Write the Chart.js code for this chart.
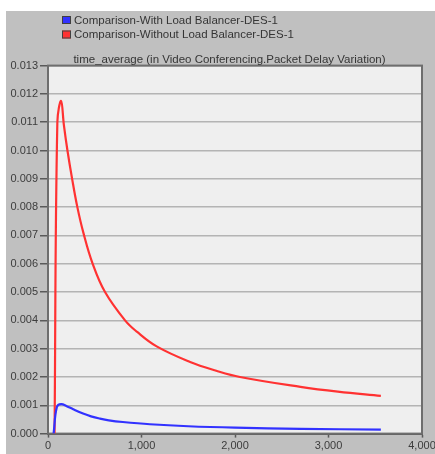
<!DOCTYPE html>
<html>
<head>
<meta charset="utf-8">
<script src="https://cdn.jsdelivr.net/npm/chart.js@4.4.1/dist/chart.umd.min.js"></script>
<style>
  html, body { margin: 0; padding: 0; background: #ffffff; }
  #panel { position: absolute; left: 6px; top: 11px; width: 429px; height: 443px; background: #c0c0c0; }
  #chart { display: block; }
</style>
</head>
<body>
<div id="panel"><canvas id="chart" width="429" height="443"></canvas></div>
<script>
  const chartTitle = 'time_average (in Video Conferencing.Packet Delay Variation)';
  const seriesNames = ['Comparison-With Load Balancer-DES-1', 'Comparison-Without Load Balancer-DES-1'];
  const seriesColors = ['rgb(50, 50, 255)', 'rgb(255, 50, 50)'];

  // simulation time (sec) and time-averaged packet delay variation
  const blueTimes = [60, 95, 140, 200, 270, 375, 460, 556, 650, 800, 1090, 1500, 2000, 2700, 3560];
  const blueValues = [0, 0.00094, 0.00104, 0.00097, 0.00086, 0.00071, 0.00061, 0.00053, 0.00047, 0.00041, 0.00033, 0.00026, 0.00021, 0.00017, 0.00014];

  const redTimes = [70, 100, 140, 170, 208, 258, 314, 378, 478, 610, 824, 950, 1162, 1520, 1800, 2053, 2700, 3100, 3560];
  const redValues = [0, 0.0110, 0.01175, 0.0109, 0.0100, 0.0090, 0.0080, 0.0071, 0.0060, 0.0050, 0.0040, 0.0036, 0.00308, 0.00253, 0.00222, 0.0020, 0.00165, 0.00148, 0.00133];

  const xMax = 4000;
  const xStep = 1000;
  const yMax = 0.013;
  const yStep = 0.001;

  const fontFam = '"Liberation Sans", Arial, sans-serif';

  function toPoints(ts, vs) {
    return ts.map((t, i) => ({ x: t, y: vs[i] }));
  }

  const plotFrame = {
    id: 'plotFrame',
    beforeDraw(chart) {
      const a = chart.chartArea;
      const ctx = chart.ctx;
      ctx.save();
      ctx.fillStyle = '#efefef';
      ctx.fillRect(a.left, a.top, a.right - a.left, a.bottom - a.top);
      ctx.restore();
    },
    beforeDatasetsDraw(chart) {
      const a = chart.chartArea;
      const ctx = chart.ctx;
      ctx.save();
      ctx.strokeStyle = '#6e6e6e';
      ctx.lineWidth = 2;
      ctx.strokeRect(a.left, a.top, a.right - a.left, a.bottom - a.top);
      ctx.restore();
    },
    afterDraw(chart) {
      const ctx = chart.ctx;
      ctx.save();
      // title
      ctx.fillStyle = '#353535';
      ctx.font = '11.5px ' + fontFam;
      ctx.textAlign = 'center';
      ctx.textBaseline = 'middle';
      ctx.fillText(chartTitle, 223.5, 48.5);
      // legend
      ctx.textAlign = 'left';
      chart.data.datasets.forEach((ds, i) => {
        const y = 5 + i * 14.5;
        ctx.fillStyle = ds.borderColor;
        ctx.fillRect(56, y, 9, 8);
        ctx.strokeStyle = '#404040';
        ctx.lineWidth = 1;
        ctx.strokeRect(56.5, y + 0.5, 8, 7);
        ctx.fillStyle = '#353535';
        ctx.fillText(ds.label, 68, y + 4.5);
      });
      ctx.restore();
    }
  };

  const ctx = document.getElementById('chart').getContext('2d');
  new Chart(ctx, {
    type: 'line',
    data: {
      datasets: [
        {
          label: seriesNames[0],
          data: toPoints(blueTimes, blueValues),
          borderColor: seriesColors[0],
          borderWidth: 2.2,
          pointRadius: 0,
          tension: 0.4,
          fill: false
        },
        {
          label: seriesNames[1],
          data: toPoints(redTimes, redValues),
          borderColor: seriesColors[1],
          borderWidth: 2.2,
          pointRadius: 0,
          tension: 0.4,
          fill: false
        }
      ]
    },
    options: {
      responsive: false,
      animation: false,
      layout: { padding: { top: 54.6, right: 13, left: 0, bottom: 0 } },
      plugins: {
        legend: { display: false },
        title: { display: false },
        tooltip: { enabled: false }
      },
      scales: {
        x: {
          type: 'linear',
          min: 0,
          max: xMax,
          afterFit: s => { s.height = 20.4; s.paddingLeft = 0; s.paddingRight = 0; },
          ticks: {
            stepSize: xStep,
            maxRotation: 0,
            padding: 2,
            color: '#3c3c3c',
            font: { family: fontFam, size: 11 },
            callback: v => v.toLocaleString('en-US')
          },
          grid: {
            drawOnChartArea: false,
            drawTicks: true,
            tickLength: 4,
            tickColor: '#5a5a5a',
            tickWidth: 1.5
          },
          border: { color: '#5a5a5a', width: 2 }
        },
        y: {
          min: 0,
          max: yMax,
          afterFit: s => { s.width = 42; },
          ticks: {
            stepSize: yStep,
            padding: 2,
            color: '#3c3c3c',
            font: { family: fontFam, size: 11 },
            callback: v => v.toFixed(3)
          },
          grid: {
            color: '#b4b4b4',
            lineWidth: 1.5,
            tickLength: 8,
            tickColor: '#5a5a5a',
            tickWidth: 1.5
          },
          border: { color: '#5a5a5a', width: 2 }
        }
      }
    },
    plugins: [plotFrame]
  });
</script>
</body>
</html>
